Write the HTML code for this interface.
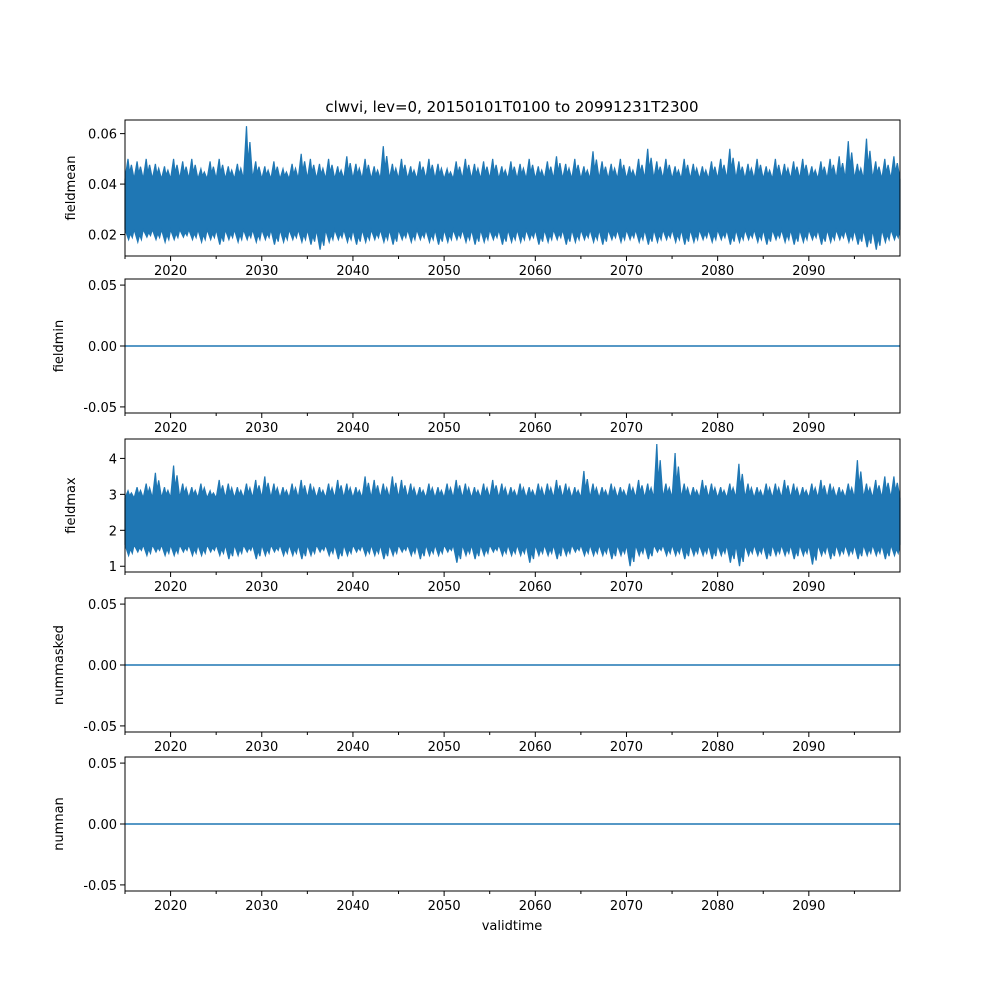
<!DOCTYPE html>
<html><head><meta charset="utf-8"><style>
body{margin:0;background:#fff}svg{display:block}
text{font-family:"DejaVu Sans","Liberation Sans",sans-serif;font-size:13px;fill:#000}
</style></head><body>
<svg id="fig" width="1000" height="1000"></svg>
<script>
const years=[];for(let y=2015;y<2100;y++)years.push(y);
const meanHigh=[0.050,0.049,0.050,0.048,0.047,0.050,0.049,0.050,0.046,0.049,0.050,0.047,0.048,0.063,0.049,0.047,0.049,0.046,0.048,0.052,0.050,0.048,0.050,0.047,0.051,0.048,0.050,0.047,0.055,0.048,0.050,0.047,0.049,0.050,0.048,0.046,0.049,0.050,0.048,0.049,0.050,0.047,0.049,0.048,0.050,0.047,0.049,0.051,0.048,0.050,0.047,0.053,0.049,0.048,0.050,0.047,0.050,0.054,0.049,0.050,0.047,0.050,0.048,0.047,0.049,0.050,0.054,0.049,0.048,0.050,0.047,0.050,0.048,0.049,0.050,0.047,0.049,0.050,0.051,0.057,0.048,0.058,0.049,0.050,0.051];
const meanLow=[0.018,0.017,0.019,0.018,0.017,0.018,0.019,0.018,0.017,0.018,0.016,0.018,0.017,0.018,0.017,0.018,0.016,0.017,0.018,0.017,0.016,0.014,0.017,0.018,0.017,0.016,0.017,0.018,0.017,0.016,0.018,0.017,0.018,0.017,0.016,0.017,0.018,0.017,0.016,0.017,0.018,0.016,0.017,0.017,0.018,0.016,0.017,0.018,0.016,0.017,0.018,0.017,0.016,0.018,0.017,0.018,0.017,0.016,0.017,0.018,0.017,0.016,0.017,0.018,0.017,0.018,0.016,0.017,0.018,0.017,0.016,0.018,0.017,0.016,0.017,0.018,0.016,0.017,0.018,0.017,0.016,0.015,0.014,0.017,0.018];
const maxHigh=[3.1,3.2,3.3,3.6,3.2,3.8,3.3,3.2,3.3,3.1,3.4,3.3,3.2,3.3,3.4,3.5,3.3,3.2,3.3,3.4,3.3,3.2,3.3,3.4,3.3,3.2,3.5,3.4,3.3,3.5,3.4,3.3,3.2,3.3,3.2,3.3,3.4,3.3,3.2,3.3,3.4,3.3,3.2,3.3,3.2,3.3,3.3,3.4,3.3,3.2,3.65,3.3,3.2,3.3,3.2,3.3,3.4,3.3,4.4,3.3,4.15,3.3,3.2,3.4,3.3,3.2,3.3,3.85,3.3,3.2,3.3,3.3,3.4,3.3,3.2,3.3,3.4,3.3,3.2,3.3,3.95,3.3,3.4,3.5,3.5];
const maxLow=[1.3,1.4,1.3,1.4,1.3,1.3,1.4,1.3,1.3,1.4,1.3,1.2,1.3,1.4,1.2,1.3,1.4,1.3,1.3,1.2,1.3,1.4,1.3,1.2,1.3,1.4,1.3,1.3,1.2,1.3,1.4,1.3,1.2,1.3,1.3,1.4,1.1,1.3,1.2,1.3,1.4,1.3,1.3,1.3,1.1,1.3,1.3,1.2,1.3,1.4,1.3,1.3,1.3,1.2,1.3,1.0,1.3,1.2,1.4,1.3,1.3,1.2,1.3,1.3,1.2,1.3,1.1,1.0,1.3,1.3,1.2,1.3,1.3,1.2,1.3,1.05,1.3,1.2,1.3,1.3,1.2,1.3,1.3,1.2,1.3];
const meanCore=[0.042,0.022],maxCore=[2.9,1.6];
const xTicks=[2020,2030,2040,2050,2060,2070,2080,2090];
const xMinor=[2015,2025,2035,2045,2055,2065,2075,2085,2095];
const panels=[
 {name:"fieldmean",top:120,bot:256,y0:0.0115,y1:0.0654,ticks:[0.02,0.04,0.06],fmt:v=>v.toFixed(2),hi:meanHigh,lo:meanLow,core:meanCore},
 {name:"fieldmin",top:279,bot:413,y0:-0.055,y1:0.055,ticks:[-0.05,0,0.05],fmt:v=>v.toFixed(2),zero:true},
 {name:"fieldmax",top:439,bot:572,y0:0.84,y1:4.54,ticks:[1,2,3,4],fmt:v=>String(v),hi:maxHigh,lo:maxLow,core:maxCore},
 {name:"nummasked",top:598,bot:732,y0:-0.055,y1:0.055,ticks:[-0.05,0,0.05],fmt:v=>v.toFixed(2),zero:true},
 {name:"numnan",top:757,bot:891,y0:-0.055,y1:0.055,ticks:[-0.05,0,0.05],fmt:v=>v.toFixed(2),zero:true}];
const L=125,R=900,X0=2015,X1=2100;
const sx=v=>L+(v-X0)/(X1-X0)*(R-L);
const svg=document.getElementById('fig'),NS="http://www.w3.org/2000/svg";
function el(t,a,p){const e=document.createElementNS(NS,t);for(const k in a)e.setAttribute(k,a[k]);(p||svg).appendChild(e);return e;}
const title=el('text',{x:512,y:112,'text-anchor':'middle',style:'font-size:15px'});title.textContent="clwvi, lev=0, 20150101T0100 to 20991231T2300";


panels.forEach(p=>{
 const g=el('g',{});
 
 
 const sy=v=>p.bot-(v-p.y0)/(p.y1-p.y0)*(p.bot-p.top);
 if(p.zero){
  const ln=el('line',{x1:L,x2:R,y1:sy(0),y2:sy(0),stroke:'#1f77b4','stroke-width':1.5},g);
  
  
 }else{
  let up=[],dn=[];
  years.forEach((y,i)=>{
   up.push([sx(y),sy(p.core[0])],[sx(y+0.33),sy(p.hi[i])],[sx(y+0.5),sy(p.core[0]+(p.hi[i]-p.core[0])*0.3)],[sx(y+0.7),sy(p.core[0]+(p.hi[i]-p.core[0])*0.7)]);
   dn.push([sx(y),sy(p.core[1])],[sx(y+0.4),sy(p.lo[i])],[sx(y+0.6),sy(p.core[1]-(p.core[1]-p.lo[i])*0.4)],[sx(y+0.8),sy(p.core[1]-(p.core[1]-p.lo[i])*0.8)]);
  });
  up.push([R,sy(p.core[0])]);dn.push([R,sy(p.core[1])]);
  const pts=up.concat(dn.reverse()).map(q=>q[0].toFixed(1)+','+q[1].toFixed(1)).join(' ');
  const pg=el('polygon',{points:pts,fill:'#1f77b4',stroke:'#1f77b4','stroke-width':1.2,'stroke-linejoin':'miter'},g);
  
  
 }
 el('rect',{x:L,y:p.top,width:R-L,height:p.bot-p.top,fill:'none',stroke:'#000','stroke-width':1},g);
 xTicks.forEach(t=>{el('line',{x1:sx(t),x2:sx(t),y1:p.bot,y2:p.bot+5,stroke:'#000'},g);
  const tx=el('text',{x:sx(t),y:p.bot+19,'text-anchor':'middle'},g);tx.textContent=t;});
 xMinor.forEach(t=>el('line',{x1:sx(t),x2:sx(t),y1:p.bot,y2:p.bot+3,stroke:'#000'},g));
 p.ticks.forEach(t=>{el('line',{x1:L-5,x2:L,y1:sy(t),y2:sy(t),stroke:'#000'},g);
  const tx=el('text',{x:L-8,y:sy(t)+5,'text-anchor':'end'},g);tx.textContent=p.fmt(t);});
 const mid=(p.top+p.bot)/2,lx=p.zero?63:75;
 const yl=el('text',{x:lx,y:mid,'text-anchor':'middle',transform:`rotate(-90 ${lx} ${mid})`},g);yl.textContent=p.name;
 
 
});
const xl=el('text',{x:512,y:930,'text-anchor':'middle'});xl.textContent="validtime";


</script>
</body></html>
